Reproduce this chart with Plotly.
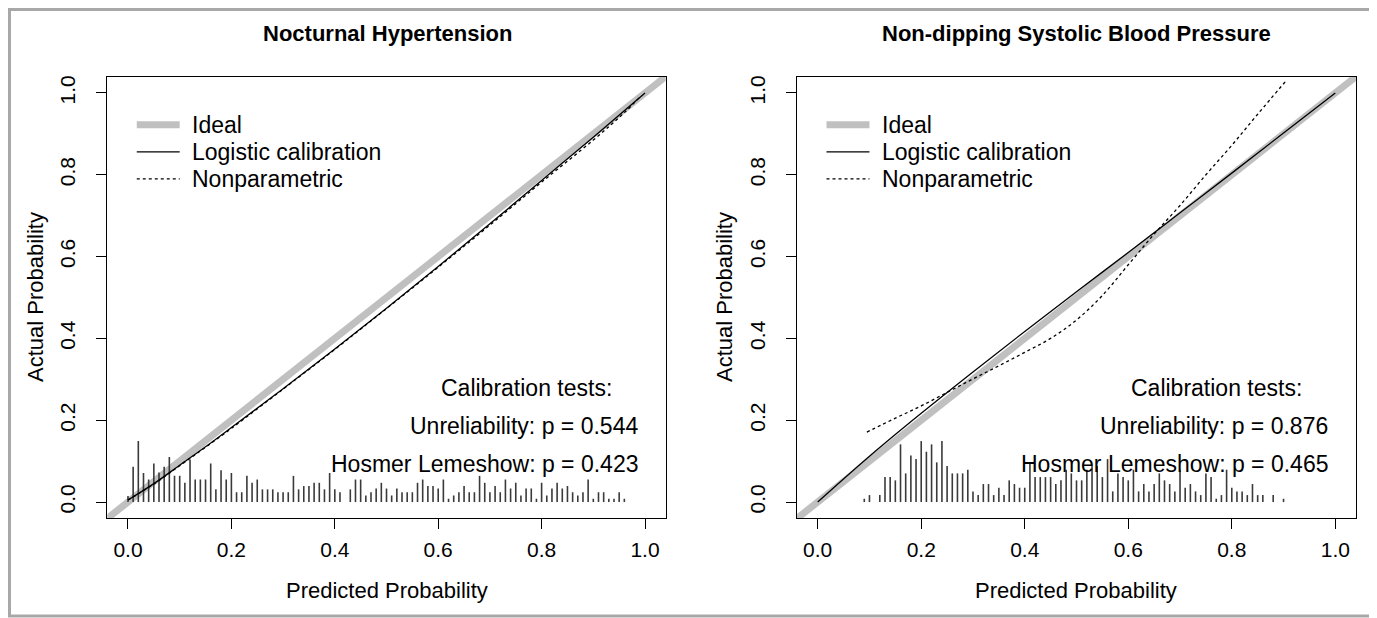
import plotly.graph_objects as go

# The page body has an 8px default margin, so the figure is sized and positioned to fit
OFF = 8
FW, FH = 1377 - OFF, 618 - OFF


def px(x):
    return (x - OFF) / FW


def py(y):
    return 1 - (y - OFF) / FH


titles = ["Nocturnal Hypertension", "Non-dipping Systolic Blood Pressure"]
tick_vals = [0.0, 0.2, 0.4, 0.6, 0.8, 1.0]
tick_text = ["0.0", "0.2", "0.4", "0.6", "0.8", "1.0"]
legend_labels = ["Ideal", "Logistic calibration", "Nonparametric"]

# Panel 1 curves
p1_logit_x = [0.0, 0.05, 0.1, 0.15, 0.2, 0.3, 0.4, 0.5, 0.6, 0.7, 0.8, 0.9, 1.0]
p1_logit_y = [0.005, 0.045, 0.09, 0.135, 0.182, 0.277, 0.374, 0.474, 0.576, 0.68, 0.786, 0.892, 1.0]
p1_np_x = [0.0, 0.05, 0.1, 0.15, 0.2, 0.3, 0.4, 0.5, 0.6, 0.7, 0.8, 0.9, 0.96, 0.99]
p1_np_y = [0.005, 0.044, 0.089, 0.134, 0.18, 0.276, 0.373, 0.473, 0.574, 0.677, 0.782, 0.885, 0.952, 0.99]

# Panel 2 curves
p2_logit_x = [0.0, 0.1, 0.2, 0.3, 0.4, 0.5, 0.6, 0.7, 0.8, 0.9, 1.0]
p2_logit_y = [0.0, 0.112, 0.217, 0.318, 0.417, 0.514, 0.61, 0.707, 0.804, 0.902, 1.0]
p2_np_x = [0.095, 0.15, 0.2, 0.25, 0.3, 0.35, 0.4, 0.45, 0.5, 0.55, 0.6, 0.65, 0.7, 0.75, 0.8, 0.85, 0.905]
p2_np_y = [0.171, 0.205, 0.235, 0.268, 0.301, 0.333, 0.366, 0.4, 0.445, 0.505, 0.58, 0.655, 0.725, 0.8, 0.872, 0.948, 1.03]

# Spike histograms of predicted probabilities
p1_spike_x = [0.00, 0.01, 0.02, 0.03, 0.04, 0.05, 0.06, 0.07, 0.08, 0.09,
              0.10, 0.11, 0.12, 0.13, 0.14, 0.15, 0.16, 0.17, 0.18, 0.19,
              0.20, 0.21, 0.22, 0.23, 0.24, 0.25, 0.26, 0.27, 0.28, 0.29,
              0.30, 0.31, 0.32, 0.33, 0.34, 0.35, 0.36, 0.37, 0.38, 0.39,
              0.40, 0.41, 0.43, 0.44, 0.45, 0.46, 0.47, 0.48, 0.49,
              0.50, 0.51, 0.52, 0.53, 0.54, 0.55, 0.56, 0.57, 0.58, 0.59,
              0.60, 0.61, 0.62, 0.63, 0.64, 0.65, 0.66, 0.67, 0.68, 0.69,
              0.70, 0.71, 0.72, 0.73, 0.74, 0.75, 0.76, 0.77, 0.78, 0.79,
              0.80, 0.81, 0.82, 0.83, 0.84, 0.85, 0.86, 0.87, 0.88, 0.89,
              0.90, 0.91, 0.92, 0.93, 0.94, 0.95, 0.96]
p1_spike_h = [0.015, 0.086, 0.149, 0.071, 0.055, 0.094, 0.072, 0.086, 0.110, 0.064,
              0.064, 0.047, 0.104, 0.055, 0.055, 0.055, 0.094, 0.031, 0.078, 0.055,
              0.071, 0.024, 0.024, 0.064, 0.047, 0.055, 0.031, 0.031, 0.031, 0.024,
              0.024, 0.024, 0.064, 0.031, 0.039, 0.039, 0.047, 0.047, 0.031, 0.071,
              0.031, 0.024, 0.031, 0.055, 0.055, 0.016, 0.024, 0.033, 0.047,
              0.033, 0.016, 0.033, 0.024, 0.024, 0.024, 0.047, 0.055, 0.039, 0.039,
              0.033, 0.055, 0.008, 0.016, 0.024, 0.039, 0.024, 0.024, 0.064, 0.047,
              0.024, 0.039, 0.024, 0.055, 0.033, 0.047, 0.016, 0.033, 0.033, 0.008,
              0.047, 0.016, 0.033, 0.047, 0.033, 0.039, 0.024, 0.016, 0.024, 0.055,
              0.008, 0.024, 0.024, 0.008, 0.008, 0.024, 0.008]

p2_spike_x = [0.09, 0.10, 0.12, 0.13, 0.14, 0.15, 0.16, 0.17, 0.18, 0.19,
              0.20, 0.21, 0.22, 0.23, 0.24, 0.25, 0.26, 0.27, 0.28, 0.29,
              0.30, 0.31, 0.32, 0.33, 0.34, 0.35, 0.36, 0.37, 0.38, 0.39,
              0.40, 0.41, 0.42, 0.43, 0.44, 0.45, 0.46, 0.47, 0.48, 0.49,
              0.50, 0.51, 0.52, 0.53, 0.54, 0.55, 0.56, 0.57, 0.58, 0.59,
              0.60, 0.61, 0.62, 0.63, 0.64, 0.65, 0.66, 0.67, 0.68, 0.69,
              0.70, 0.71, 0.72, 0.73, 0.74, 0.75, 0.76, 0.77, 0.78, 0.79,
              0.80, 0.81, 0.82, 0.83, 0.84, 0.85, 0.86, 0.88, 0.90]
p2_spike_h = [0.008, 0.017, 0.017, 0.061, 0.061, 0.053, 0.141, 0.070, 0.114, 0.105,
              0.149, 0.123, 0.141, 0.097, 0.149, 0.088, 0.070, 0.070, 0.070, 0.079,
              0.026, 0.017, 0.044, 0.044, 0.017, 0.035, 0.017, 0.053, 0.044, 0.035,
              0.035, 0.097, 0.061, 0.061, 0.061, 0.061, 0.044, 0.053, 0.079, 0.070,
              0.053, 0.053, 0.079, 0.088, 0.088, 0.061, 0.105, 0.026, 0.070, 0.061,
              0.053, 0.079, 0.026, 0.044, 0.026, 0.044, 0.070, 0.053, 0.044, 0.026,
              0.079, 0.035, 0.044, 0.026, 0.017, 0.070, 0.061, 0.008, 0.017, 0.079,
              0.035, 0.026, 0.026, 0.017, 0.044, 0.017, 0.017, 0.017, 0.008]

cal_texts = [
    ["Calibration tests:", "Unreliability: p = 0.544", "Hosmer Lemeshow: p = 0.423"],
    ["Calibration tests:", "Unreliability: p = 0.876", "Hosmer Lemeshow: p = 0.465"],
]

FONT = "Liberation Sans, Arial, Helvetica, sans-serif"
AX_RANGE = [-0.04, 1.04]
IDEAL_COL = "#c0c0c0"
TXT = 23

fig = go.Figure()

panels = [
    dict(xa="x", ya="y", lx=p1_logit_x, ly=p1_logit_y, nx=p1_np_x, ny=p1_np_y,
         sx=p1_spike_x, sh=p1_spike_h),
    dict(xa="x2", ya="y2", lx=p2_logit_x, ly=p2_logit_y, nx=p2_np_x, ny=p2_np_y,
         sx=p2_spike_x, sh=p2_spike_h),
]

for i, p in enumerate(panels):
    fig.add_trace(go.Scatter(x=AX_RANGE, y=AX_RANGE, mode="lines",
                             line=dict(color=IDEAL_COL, width=7),
                             xaxis=p["xa"], yaxis=p["ya"], showlegend=False, hoverinfo="skip"))
    xs, ys = [], []
    for sx, sh in zip(p["sx"], p["sh"]):
        xs += [sx, sx, None]
        ys += [0, sh, None]
    fig.add_trace(go.Scatter(x=xs, y=ys, mode="lines",
                             line=dict(color="#3a3a3a", width=1.6),
                             xaxis=p["xa"], yaxis=p["ya"], showlegend=False, hoverinfo="skip"))
    fig.add_trace(go.Scatter(x=p["lx"], y=p["ly"], mode="lines", line_shape="spline",
                             line=dict(color="black", width=1.3),
                             xaxis=p["xa"], yaxis=p["ya"], showlegend=False))
    fig.add_trace(go.Scatter(x=p["nx"], y=p["ny"], mode="lines", line_shape="spline",
                             line=dict(color="black", width=1.3, dash="dot"),
                             xaxis=p["xa"], yaxis=p["ya"], showlegend=False))
    leg_y = [0.922, 0.856, 0.79]
    styles = [dict(color=IDEAL_COL, width=7), dict(color="black", width=1.3),
              dict(color="black", width=1.3, dash="dot")]
    for ly, st, lab in zip(leg_y, styles, legend_labels):
        fig.add_trace(go.Scatter(x=[0.017, 0.10], y=[ly, ly], mode="lines", line=st,
                                 xaxis=p["xa"], yaxis=p["ya"], showlegend=False, hoverinfo="skip"))
        fig.add_annotation(x=0.12, y=ly, xref=p["xa"], yref=p["ya"], text=lab,
                           showarrow=False, xanchor="left", yanchor="middle",
                           font=dict(size=TXT, family=FONT, color="black"))
    t = cal_texts[i]
    fig.add_annotation(x=0.771, y=0.279, xref=p["xa"], yref=p["ya"],
                       text=t[0], showarrow=False, xanchor="center", yanchor="middle",
                       font=dict(size=TXT, family=FONT, color="black"))
    fig.add_annotation(x=0.99, y=0.186, xref=p["xa"], yref=p["ya"],
                       text=t[1], showarrow=False, xanchor="right", yanchor="middle",
                       font=dict(size=TXT, family=FONT, color="black"))
    fig.add_annotation(x=0.99, y=0.093, xref=p["xa"], yref=p["ya"],
                       text=t[2], showarrow=False, xanchor="right", yanchor="middle",
                       font=dict(size=TXT, family=FONT, color="black"))

y_dom = [py(518.4), py(76.6)]
x_doms = [[px(107.3), px(665.7)], [px(797.0), px(1356.0)]]

ax_common = dict(range=AX_RANGE, showgrid=False, zeroline=False, showline=True, mirror=True,
                 linecolor="black", linewidth=1, ticks="outside", ticklen=10, tickwidth=1,
                 tickcolor="black", tickvals=tick_vals, ticktext=tick_text,
                 tickfont=dict(size=21, family=FONT, color="black"))

fig.update_layout(
    xaxis=dict(domain=x_doms[0], anchor="y", ticklabelstandoff=2, **ax_common),
    yaxis=dict(domain=y_dom, anchor="x", tickangle=-90, ticklabelstandoff=13, **ax_common),
    xaxis2=dict(domain=x_doms[1], anchor="y2", ticklabelstandoff=2, **ax_common),
    yaxis2=dict(domain=y_dom, anchor="x2", tickangle=-90, ticklabelstandoff=13, **ax_common),
    width=FW, height=FH, margin=dict(l=0, r=0, t=0, b=0),
    plot_bgcolor="white", paper_bgcolor="white",
    font=dict(family=FONT, color="black"),
)

title_x = [px(387), px(1076)]
ytitle_x = [px(35), px(724)]
for i in range(2):
    fig.add_annotation(x=title_x[i], y=py(33), xref="paper", yref="paper", text="<b>" + titles[i] + "</b>",
                       showarrow=False, xanchor="center", yanchor="middle",
                       font=dict(size=22, family=FONT, color="black"))
    fig.add_annotation(x=title_x[i], y=py(590), xref="paper", yref="paper", text="Predicted Probability",
                       showarrow=False, xanchor="center", yanchor="middle",
                       font=dict(size=22, family=FONT, color="black"))
    fig.add_annotation(x=ytitle_x[i], y=py(297), xref="paper", yref="paper", text="Actual Probability",
                       showarrow=False, xanchor="center", yanchor="middle", textangle=-90,
                       font=dict(size=22, family=FONT, color="black"))

# outer gray frame
fig.add_shape(type="rect", xref="paper", yref="paper", x0=px(9.5), x1=px(1372), y0=py(616), y1=py(9.5),
              line=dict(color="#a8a8a8", width=3), fillcolor="rgba(0,0,0,0)", layer="below")

fig.write_html("out.html")
